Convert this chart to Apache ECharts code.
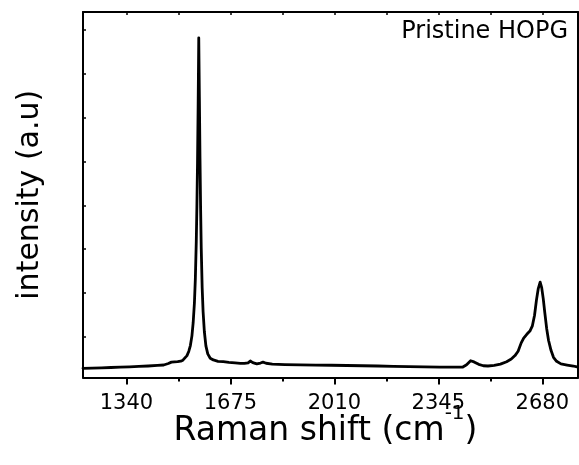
<!DOCTYPE html>
<html>
<head>
<meta charset="utf-8">
<script src="https://cdn.jsdelivr.net/npm/echarts@6/dist/echarts.min.js"></script>
<style>
  html, body { margin: 0; padding: 0; background: #fff; }
  #chart { width: 579px; height: 465px; }
</style>
</head>
<body>
<div id="chart"></div>
<script>
// Raman spectrum of pristine HOPG: flat baseline, sharp G band, weak feature near 2450 and the 2D band
const ramanShift = [
  1200, 1230, 1260, 1290, 1320, 1350, 1380, 1410, 1440, 1460, 1475, 1485, 1495, 1505,
  1515, 1522, 1528, 1535, 1541, 1546, 1551, 1555, 1559, 1562, 1565, 1567, 1569, 1571,
  1573, 1575, 1577, 1579, 1581, 1584, 1587, 1591, 1596, 1602, 1610, 1620, 1635, 1652,
  1670, 1690, 1707, 1720, 1732, 1739, 1747, 1760, 1772, 1780, 1790, 1810, 1850, 1900,
  1950, 2000, 2050, 2100, 2150, 2200, 2250, 2300, 2350, 2400, 2424, 2436, 2449, 2460,
  2475, 2490, 2505, 2525, 2545, 2565, 2580, 2592, 2602, 2612, 2620, 2630, 2640, 2648,
  2655, 2661, 2667, 2673, 2678, 2683, 2688, 2694, 2700, 2708, 2716, 2726, 2740, 2760,
  2780, 2795
];
const intensity = [
  210, 212, 218, 228, 238, 244, 252, 262, 275, 285, 320, 350, 358, 360,
  372, 395, 430, 500, 600, 730, 950, 1250, 1700, 2250, 3100, 3900, 4900, 6200,
  7750, 6400, 5000, 3850, 2950, 2050, 1500, 1050, 720, 540, 440, 400, 370, 360,
  345, 335, 324, 322, 335, 377, 340, 310, 330, 350, 325, 305, 295, 288,
  284, 280, 274, 268, 262, 256, 250, 244, 238, 236, 240, 290, 383, 355,
  300, 268, 262, 275, 305, 360, 420, 500, 600, 790, 900, 985, 1060, 1180,
  1420, 1760, 2030, 2175, 2050, 1800, 1480, 1120, 850, 620, 460, 370, 310, 285,
  262, 235
];

const xMajorTicks = [1340, 1675, 2010, 2345, 2680];
const xMinorTicks = [1507.5, 1842.5, 2177.5, 2512.5];
const yTicks = [930, 1930, 2930, 3930, 4930, 5930, 6930, 7930];
const sampleLabel = 'Pristine HOPG';

const FONT = 'DejaVu Sans';
const X_MIN = 1200, X_MAX = 2795;
const Y_MIN = 0, Y_MAX = 8340;

const frameLine = { show: true, lineStyle: { color: '#000', width: 2 } };

const chart = echarts.init(document.getElementById('chart'), null, { renderer: 'canvas' });

chart.setOption({
  animation: false,
  backgroundColor: '#fff',
  grid: { left: 83, right: 1, top: 12, bottom: 87.5, containLabel: false, outerBoundsMode: 'none' },
  xAxis: [
    {
      type: 'value', min: X_MIN, max: X_MAX, position: 'bottom',
      axisLine: frameLine,
      axisTick: { show: true, inside: false, length: 7, customValues: xMajorTicks,
                  lineStyle: { color: '#000', width: 2 } },
      axisLabel: { show: true, customValues: xMajorTicks, margin: 16,
                   formatter: (v) => String(v),
                   fontFamily: FONT, fontSize: 21, color: '#000' },
      splitLine: { show: false },
      name: '{a|Raman shift (cm}{s|-1}{a|)}',
      nameLocation: 'middle', nameGap: 26, nameMoveOverlap: false,
      nameTextStyle: {
        fontFamily: FONT, fontSize: 33, color: '#000',
        padding: [0, 10, 0, 0],
        rich: {
          a: { fontFamily: FONT, fontSize: 33, lineHeight: 44, verticalAlign: 'bottom', color: '#000' },
          s: { fontFamily: FONT, fontSize: 20, lineHeight: 20, verticalAlign: 'top', color: '#000' }
        }
      }
    },
    {
      type: 'value', min: X_MIN, max: X_MAX, position: 'bottom',
      axisLine: { show: false },
      axisTick: { show: true, inside: false, length: 4, customValues: xMinorTicks,
                  lineStyle: { color: '#000', width: 2 } },
      axisLabel: { show: false },
      splitLine: { show: false }
    },
    {
      type: 'value', min: X_MIN, max: X_MAX, position: 'top',
      axisLine: frameLine,
      axisTick: { show: true, inside: true, length: 3,
                  customValues: xMajorTicks.concat(xMinorTicks),
                  lineStyle: { color: '#000', width: 1.5 } },
      axisLabel: { show: false },
      splitLine: { show: false }
    }
  ],
  yAxis: [
    {
      type: 'value', min: Y_MIN, max: Y_MAX, position: 'left',
      axisLine: frameLine,
      axisTick: { show: true, inside: true, length: 3, customValues: yTicks,
                  lineStyle: { color: '#000', width: 1.5 } },
      axisLabel: { show: false },
      splitLine: { show: false },
      name: 'intensity (a.u)',
      nameLocation: 'middle', nameGap: 38, nameMoveOverlap: false,
      nameTextStyle: { fontFamily: FONT, fontSize: 30, color: '#000' }
    },
    {
      type: 'value', min: Y_MIN, max: Y_MAX, position: 'right',
      axisLine: frameLine,
      axisTick: { show: false },
      axisLabel: { show: false },
      splitLine: { show: false }
    }
  ],
  graphic: [
    {
      type: 'text', right: 11, top: 20,
      style: { text: sampleLabel, fontFamily: FONT, fontSize: 24, fill: '#000' }
    }
  ],
  series: [
    {
      type: 'line',
      xAxisIndex: 0, yAxisIndex: 0,
      data: ramanShift.map((x, i) => [x, intensity[i]]),
      showSymbol: false,
      smooth: false,
      lineStyle: { color: '#000', width: 2.8, join: 'round', cap: 'round' }
    }
  ]
});
</script>
</body>
</html>
